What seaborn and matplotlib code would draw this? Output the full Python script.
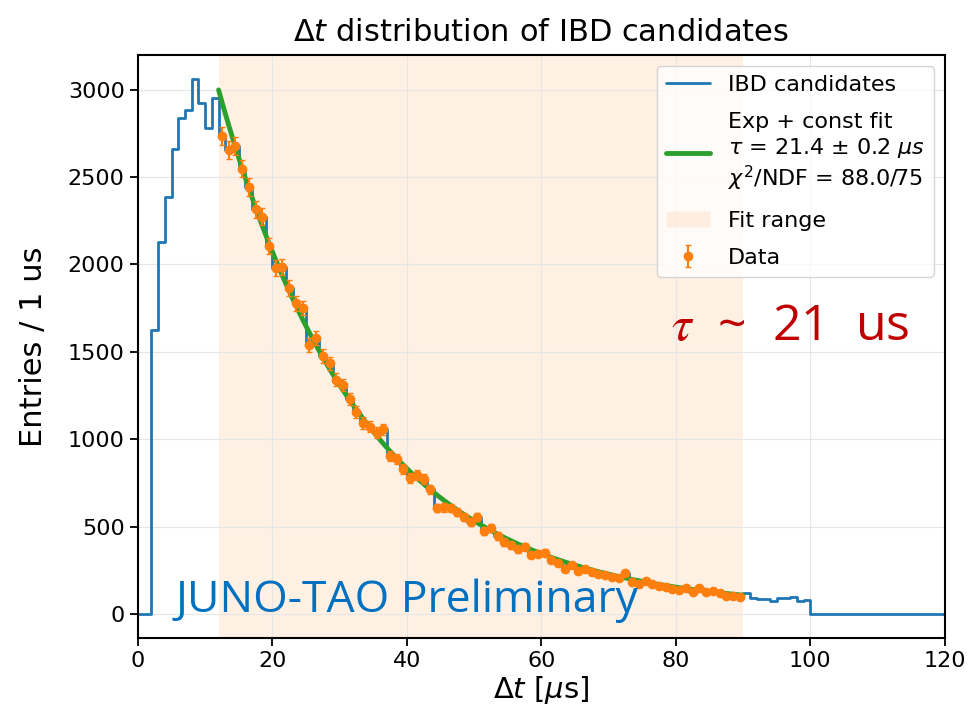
import numpy as np
import pandas as pd
import seaborn as sns
import matplotlib.pyplot as plt
from matplotlib.lines import Line2D
from matplotlib.patches import Patch

# histogram of IBD candidates, 1 us bins from 0 to 120 us
bin_edges = np.arange(0, 121, 1)
counts = [
    0, 0, 1625, 2129, 2387, 2662, 2837, 2884, 3059, 2922, 2778, 2953,
    2736, 2655, 2678, 2548, 2443, 2315, 2273, 2104, 1980, 1984,
    1865, 1777, 1750, 1539, 1578, 1476, 1435, 1340, 1310, 1230,
    1158, 1092, 1072, 1038, 1057, 905, 886, 830, 777, 796,
    773, 714, 607, 611, 607, 582, 554, 525, 555, 475,
    490, 447, 412, 393, 370, 384, 336, 345, 351, 309,
    290, 256, 279, 246, 260, 240, 231, 225, 213, 208,
    233, 185, 170, 189, 170, 160, 156, 141, 137, 147,
    128, 151, 128, 134, 118, 105, 103, 99, 118, 90,
    84, 88, 72, 90, 92, 99, 72, 82,
] + [0] * 20

# fit range and fit result
fit_lo, fit_hi = 12, 90
fit_amp, fit_tau, fit_const = 5201.0, 21.4, 30.0

df = pd.DataFrame({"t": bin_edges[:-1] + 0.5, "n": counts})
pts = df[(df.t > fit_lo) & (df.t < fit_hi)]
t_fit = np.linspace(fit_lo, fit_hi, 300)
fit = pd.DataFrame({"t": t_fit, "f": fit_amp * np.exp(-t_fit / fit_tau) + fit_const})

sns.set_style("ticks", {"axes.grid": True, "grid.color": "0.9", "axes.edgecolor": "black",
                        "text.color": "black", "axes.labelcolor": "black",
                        "xtick.color": "black", "ytick.color": "black"})
plt.rcParams["font.family"] = ["DejaVu Sans"]

fig, ax = plt.subplots(figsize=(9.71, 7.2), dpi=100)
fig.subplots_adjust(left=0.142, right=0.973, top=0.924, bottom=0.114)

ax.axvspan(fit_lo, fit_hi, color="tab:orange", alpha=0.11, lw=0, zorder=0)
sns.histplot(data=df, x="t", weights="n", binwidth=1, binrange=(0, 120), element="step",
             fill=False, color="tab:blue", lw=2, ax=ax, zorder=2)
sns.lineplot(data=fit, x="t", y="f", color="tab:green", lw=3.5, ax=ax, zorder=3)
eb = ax.errorbar(pts.t, pts.n, yerr=np.sqrt(pts.n), fmt="o", color="tab:orange",
                 ms=6, elinewidth=1.5, capsize=2.5, zorder=4)

ax.set_xlim(0, 120)
ax.set_ylim(-137, 3200)
ax.set_xticks(np.arange(0, 121, 20))
ax.set_yticks(np.arange(0, 3001, 500))
ax.tick_params(labelsize=16, length=6, width=1.3)
for s in ax.spines.values():
    s.set_linewidth(1.5)

ax.set_title(r"$\Delta t$ distribution of IBD candidates", fontsize=22, pad=10)
ax.set_xlabel(r"$\Delta t$ [$\mu$s]", fontsize=21, labelpad=2)
ax.set_ylabel("Entries / 1 us", fontsize=22, labelpad=14)

ax.text(5.6, 10, "JUNO-TAO Preliminary", color="#0070C0", fontsize=32,
        family="Open Sans", zorder=5)
ax.text(79.3, 1640, r"$\tau$  ~  21  us", color="#C00000", fontsize=36,
        family="Open Sans", math_fontfamily="stix", va="center", zorder=5)

handles = [
    Line2D([], [], color="tab:blue", lw=2),
    Line2D([], [], color="tab:green", lw=3.5),
    Patch(facecolor="tab:orange", alpha=0.11),
    eb,
]
labels = [
    "IBD candidates",
    "Exp + const fit\n" + r"$\tau$ = 21.4 ± 0.2 $\mu s$" + "\n" + r"$\chi^2$/NDF = 88.0/75",
    "Fit range",
    "Data",
]
ax.legend(handles, labels, loc="upper right", fontsize=16, frameon=True, labelspacing=0.78)

fig.savefig("out.png", dpi=100)
